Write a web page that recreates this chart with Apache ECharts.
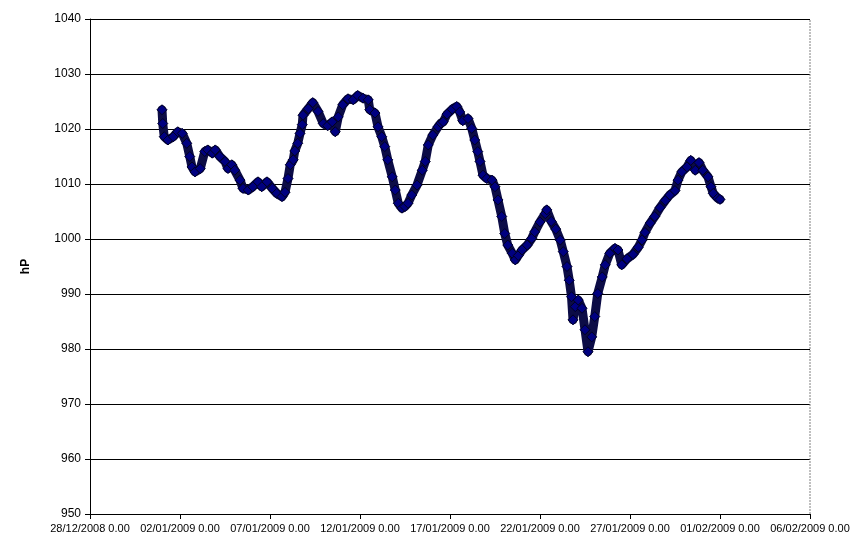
<!DOCTYPE html>
<html>
<head>
<meta charset="utf-8">
<script src="https://cdn.jsdelivr.net/npm/echarts@6/dist/echarts.min.js"></script>
<style>
html,body{margin:0;padding:0;background:#fff;}
#chart{width:867px;height:549px;}
</style>
</head>
<body>
<div id="chart"></div>
<script>
// Hours elapsed since 01/01/2009 0.00 for each reading
var hoursSince0101 = [0,1,3,8,15,21,27,33,37,40,44,51,57,61,67,71,77,84,88,93,97,104,108,115,121,128,133,140,147,153,160,164,168,171,175,177,181,184,187,188,195,201,208,215,221,227,231,235,241,248,255,261,268,275,277,284,288,293,297,301,307,311,315,320,324,328,333,340,347,351,355,361,368,372,375,380,387,393,397,401,408,413,417,421,424,428,433,440,444,448,453,457,461,467,471,475,480,487,493,497,504,511,513,519,525,531,535,540,543,546,548,551,555,560,564,568,573,577,581,587,591,597,604,608,613,620,628,635,640,644,651,657,664,671,677,684,688,693,700,705,711,716,721,728,732,735,741,744];
// Pressure readings (hP)
var pressure = [1023.5,1021,1018.6,1018.0,1018.6,1019.5,1019.2,1017.4,1015,1013.1,1012.2,1012.8,1015.9,1016.2,1015.6,1016.2,1015,1014.1,1012.8,1013.5,1012.5,1010.7,1009.2,1008.9,1009.5,1010.4,1009.5,1010.4,1009.2,1008.3,1007.7,1008.5,1011,1013.5,1014.4,1016,1017.4,1019.2,1020.8,1022.5,1023.7,1024.8,1023.2,1021,1020.6,1021.3,1019.5,1022.2,1024.4,1025.5,1025.3,1026.1,1025.6,1025.3,1023.5,1022.9,1020.4,1018.6,1016.8,1014.4,1011.3,1008.9,1006.5,1005.6,1005.9,1006.5,1008,1009.8,1012.5,1014.1,1017.1,1018.9,1020.4,1021.1,1021.3,1022.7,1023.6,1024.1,1023.1,1021.5,1021.9,1020.1,1018,1015.9,1014.1,1011.6,1011,1010.7,1009.5,1007.1,1004.1,1001,998.9,997.4,996.2,997.0,998,998.9,1000.1,1001.3,1003.1,1004.6,1005.3,1003.2,1001.8,999.8,997.7,995,992.5,989.5,985.3,987.7,988.9,987.4,983.5,979.5,982.2,985.9,990.1,993.1,995.3,997.4,998.3,998,995.3,996.4,997.2,998.5,999.8,1001.2,1002.9,1004.1,1005.7,1007,1008,1008.8,1010.7,1012.2,1013.1,1014.3,1012.5,1013.9,1012.5,1011.3,1009.5,1008.3,1007.4,1007.2];
// X tick labels, every 5 days from 28/12/2008
var xTickLabels = ['28/12/2008 0.00','02/01/2009 0.00','07/01/2009 0.00','12/01/2009 0.00','17/01/2009 0.00','22/01/2009 0.00','27/01/2009 0.00','01/02/2009 0.00','06/02/2009 0.00'];
var yAxisName = 'hP';

// x in days since 28/12/2008 0.00 (01/01/2009 is day 4)
var data = hoursSince0101.map(function(h, i){ return [4 + h / 24, pressure[i]]; });

var chart = echarts.init(document.getElementById('chart'));
chart.setOption({
  animation: false,
  backgroundColor: '#ffffff',
  grid: { left: 90, right: 57, top: 19, bottom: 35, show: false },
  xAxis: {
    type: 'value', min: 0, max: 40, interval: 5,
    axisLine: { show: true, lineStyle: { color: '#000', width: 1 } },
    axisTick: { show: true, inside: false, length: 5, lineStyle: { color: '#000' } },
    splitLine: { show: false },
    axisLabel: {
      color: '#000', fontFamily: 'Liberation Sans, Arial', fontSize: 11, margin: 9,
      formatter: function(v){ return xTickLabels[Math.round(v / 5)] || ''; }
    }
  },
  yAxis: {
    type: 'value', min: 950, max: 1040, interval: 10,
    name: yAxisName, nameLocation: 'middle', nameGap: 58, nameRotate: 90,
    nameTextStyle: { color: '#000', fontWeight: 'bold', fontSize: 12, fontFamily: 'Liberation Sans, Arial' },
    axisLine: { show: true, onZero: false, lineStyle: { color: '#000', width: 1 } },
    axisTick: { show: true, inside: false, length: 5, lineStyle: { color: '#000' } },
    splitLine: { show: true, lineStyle: { color: '#000', width: 1 } },
    axisLabel: {
      color: '#000', fontFamily: 'Liberation Sans, Arial', fontSize: 12, margin: 9,
      formatter: function(v){ return String(v); }
    }
  },
  series: [
    {
      type: 'line', data: data, smooth: false,
      symbol: 'diamond', symbolSize: 10, showSymbol: true, showAllSymbol: true,
      lineStyle: { color: '#0c0c46', width: 9, join: 'round', cap: 'round' },
      itemStyle: { color: '#000080', borderColor: '#000022', borderWidth: 1 },
      z: 3
    },
    {
      type: 'line', data: [[40, 950], [40, 1040]], symbol: 'none', silent: true,
      lineStyle: { color: '#808080', width: 1, type: [2, 1] }, z: 2
    }
  ]
});
</script>
</body>
</html>
